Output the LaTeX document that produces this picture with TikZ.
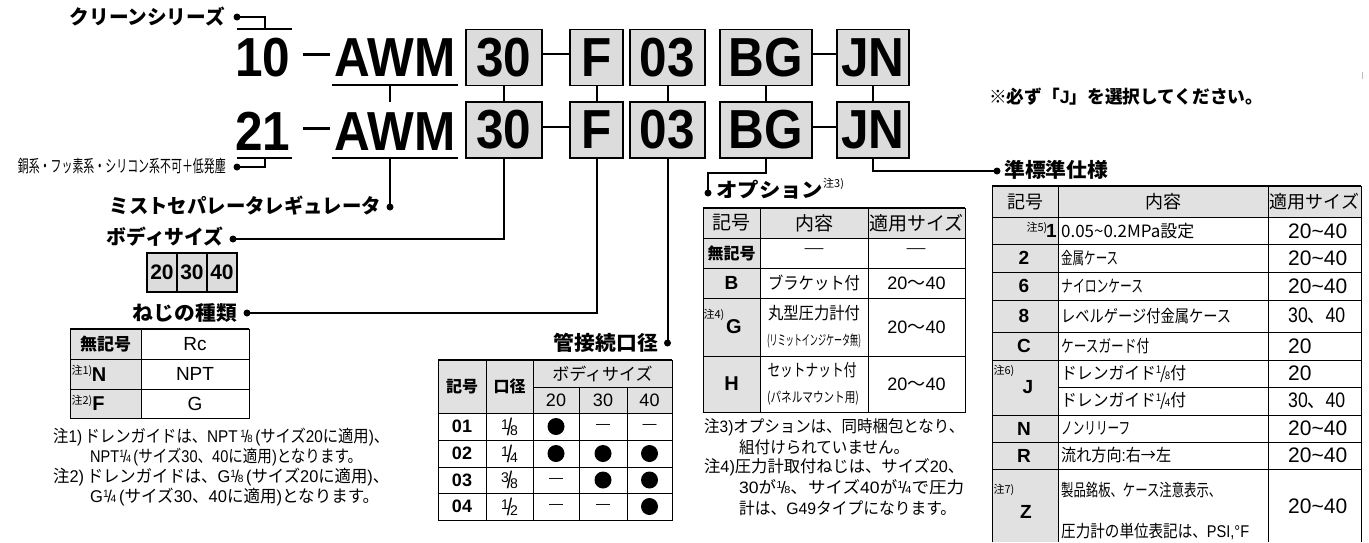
\documentclass[tikz,border=0pt]{standalone}
\usepackage{fontspec}
\usepackage{graphicx}
\setmainfont{Liberation Sans}
\newfontfamily\jp{Noto Sans CJK JP}
\newcommand\J[1]{{\jp #1}}
\newcommand\fs[1]{\fontsize{#1}{#1}\selectfont}
\newcommand\fx[2]{\resizebox{#1pt}{\height}{#2}}
\newcommand\nx[1]{\scalebox{0.9}[1]{#1}}
\newcommand\fr[2]{\raisebox{0.55ex}{\scalebox{0.62}{#1}}\kern-0.08em/\kern-0.08em\scalebox{0.62}{#2}}
\newcommand\pfr[2]{\raisebox{6pt}{\fs{14}#1}\kern-2pt{\fs{24}\scalebox{0.8}[1]{/}}\kern-2pt{\fs{14}#2}}
\newcommand\tld{\char"007E\relax}
\definecolor{boxgray}{RGB}{220,220,220}
\definecolor{hdgray}{RGB}{225,225,225}
\tikzset{
  code/.style={draw, line width=1.8, fill=boxgray, inner sep=0, minimum height=56, font=\bfseries\fs{55}},
  bigtxt/.style={inner sep=0, font=\bfseries\fs{55}},
  conn/.style={line width=2},
  dotn/.style={circle, fill, inner sep=0, minimum size=7},
  ttl/.style={inner sep=0, font=\jp\bfseries\fs{20}},
  tx/.style={inner sep=0, font=\fs{18}},
  btx/.style={inner sep=0, font=\bfseries\fs{18}},
  jtx/.style={inner sep=0, font=\jp\fs{17}},
  jbtx/.style={inner sep=0, font=\jp\bfseries\fs{16}},
  sm/.style={inner sep=0, font=\jp\fs{11}},
  grid/.style={line width=1},
  topl/.style={line width=2.2},
  note/.style={inner sep=0, anchor=west, font=\fs{17}},
  bul/.style={circle, fill, inner sep=0, minimum size=17},
}
\begin{document}
\begin{tikzpicture}[x=1pt,y=-1pt]
\useasboundingbox (0,0) rectangle (1369,542);

% ---------- part number rows ----------
\node[bigtxt] (t10) at (263,57.5) {\nx{10}};
\node[bigtxt] (tawm1) at (395,57.5) {\nx{AWM}};
\node[code, minimum width=76] (c30a) at (504,57.5) {\nx{30}};
\node[code, minimum width=53] (cFa) at (596.5,57.5) {\nx{F}};
\node[code, minimum width=75] (c03a) at (667.5,57.5) {\nx{03}};
\node[code, minimum width=92] (cBGa) at (766,57.5) {\nx{BG}};
\node[code, minimum width=72] (cJNa) at (873,57.5) {\nx{JN}};

\node[bigtxt] (t21) at (263,131.5) {\nx{21}};
\node[bigtxt] (tawm2) at (395,131.5) {\nx{AWM}};
\node[code, minimum width=76] (c30b) at (504,130) {\nx{30}};
\node[code, minimum width=53] (cFb) at (596.5,130) {\nx{F}};
\node[code, minimum width=75] (c03b) at (667.5,130) {\nx{03}};
\node[code, minimum width=92] (cBGb) at (766,130) {\nx{BG}};
\node[code, minimum width=72] (cJNb) at (873,130) {\nx{JN}};

% dashes and connectors in the part numbers
\draw[line width=3] (303,54) -- (330,54);
\draw[line width=3] (303,128) -- (330,128);
\draw[conn] (c30a.east |- 0,54) -- (cFa.west |- 0,54);
\draw[conn] (cBGa.east |- 0,54) -- (cJNa.west |- 0,54);
\draw[conn] (c30b.east |- 0,127) -- (cFb.west |- 0,127);
\draw[conn] (cBGb.east |- 0,127) -- (cJNb.west |- 0,127);
\foreach \n in {30,F,03,BG,JN}{\draw[conn] (c\n a.south) -- (c\n b.north);}

% underlines
\draw[conn] (237,29) -- (292,29);
\draw[conn] (332,85) -- (458,85);
\draw[conn] (390,85) -- (390,102);
\draw[conn] (237,158) -- (292,158);
\draw[conn] (332,158) -- (458,158);

% ---------- labels with dots ----------
\node[ttl, anchor=east] (lclean) at (225,17) {\fx{155}{クリーンシリーズ}};
\node[dotn] (dclean) at (237,17) {};
\coordinate (kclean) at (265,29);
\draw[conn] (dclean.center) -| (kclean);

\node[inner sep=0, anchor=east, font=\jp\fs{17}] (llow) at (226,166) {\fx{208}{銅系・フッ素系・シリコン系不可＋低発塵}};
\node[dotn] (dlow) at (237,167) {};
\coordinate (klow) at (265,158);
\draw[conn] (dlow.center) -| (klow);

\node[ttl, anchor=east] (lmist) at (381,206) {\fx{271}{ミストセパレータレギュレータ}};
\node[dotn] (dmist) at (390,207) {};
\draw[conn] (390,158) -- (dmist.center);

\node[ttl, anchor=east] (lbody) at (224,237) {\fx{117}{ボディサイズ}};
\node[dotn] (dbody) at (233,239) {};
\draw[conn] (c30b.south) |- (dbody.center);

\node[ttl, anchor=east] (lthread) at (237,313) {\fx{104}{ねじの種類}};
\node[dotn] (dthread) at (247,313) {};
\draw[conn] (cFb.south) |- (dthread.center);

\node[ttl, anchor=east] (lpipe) at (658,343) {\fx{104}{管接続口径}};
\node[dotn] (dpipe) at (667.5,343) {};
\draw[conn] (c03b.south) -- (dpipe.center);

\node[ttl, anchor=west] (lopt) at (716,190) {\fx{107}{オプション}};
\node[sm, anchor=west] (lopt3) at (823,184) {注3)};
\node[dotn] (dopt) at (708,193) {};
\coordinate (kopt) at (766,173);
\draw[conn] (cBGb.south) -- (kopt) -| (dopt.center);

\node[ttl, anchor=west] (lstd) at (1004,170) {\fx{104}{準標準仕様}};
\node[dotn] (dstd) at (997,171) {};
\draw[conn] (cJNb.south) |- (dstd.center);

\node[ttl, anchor=west, font=\jp\bfseries\fs{18}] (lmust) at (989,97) {\fx{274}{※必ず「{\rmfamily\bfseries J}」を選択してください。}};
\draw[gray!50, line width=1] (1362,72) -- (1362,79);

% ---------- body size boxes ----------
\foreach \v/\x in {20/162,30/192,40/222}{
  \node[draw, line width=1.4, fill=boxgray, minimum width=30, minimum height=39, inner sep=0, font=\bfseries\fs{21}] (bs\v) at (\x,272.5) {\v};
}

% ---------- thread table ----------
\fill[hdgray] (70,329) rectangle (141,418);
\draw[grid] (70,329) rectangle (249,418);
\draw[topl] (70,329) -- (249,329);
\draw[grid] (141,329) -- (141,418);
\draw[grid] (70,359) -- (249,359);
\draw[grid] (70,389) -- (249,389);
\node[jbtx, font=\jp\bfseries\fs{17}] (th1) at (105.5,344) {無記号};
\node[tx, font=\fs{19}] (th2) at (195,344) {Rc};
\node[sm] (th3) at (82,371) {注1)};
\node[btx, font=\bfseries\fs{20}] (th4) at (99,375) {N};
\node[tx, font=\fs{19}] (th5) at (195,374) {NPT};
\node[sm] (th6) at (82,401) {注2)};
\node[btx, font=\bfseries\fs{20}] (th7) at (98.5,404) {F};
\node[tx, font=\fs{19}] (th8) at (195,404) {G};

\node[note] (n1) at (53,437) {\fx{336}{\J{注}1)\,\J{ドレンガイドは、}NPT\,\fr18\,(\J{サイズ}20\J{に適用})\J{、}}};
\node[note] (n2) at (90,457) {\fx{272}{NPT\fr14\,(\J{サイズ}30\J{、}40\J{に適用})\J{となります。}}};
\node[note] (n3) at (53,477) {\fx{336}{\J{注}2)\,\J{ドレンガイドは、}G\fr18\,(\J{サイズ}20\J{に適用})\J{、}}};
\node[note] (n4) at (90,497) {\fx{289}{G\fr14\,(\J{サイズ}30\J{、}40\J{に適用})\J{となります。}}};

% ---------- pipe size table ----------
\fill[hdgray] (438,360) rectangle (672,413);
\draw[grid] (438,360) rectangle (672,520);
\draw[topl] (438,360) -- (672,360);
\foreach \x in {486,533}{\draw[grid] (\x,360) -- (\x,520);}
\foreach \x in {579,627}{\draw[grid] (\x,387) -- (\x,520);}
\draw[grid] (533,387) -- (672,387);
\foreach \y in {413,440,467,493}{\draw[grid] (438,\y) -- (672,\y);}
\node[jbtx] (p1) at (462,386.5) {記号};
\node[jbtx] (p2) at (509.5,386.5) {口径};
\node[jtx] (p3) at (602.5,373.5) {ボディサイズ};
\node[tx] (p4) at (556,400.5) {20};
\node[tx] (p5) at (603,400.5) {30};
\node[tx] (p6) at (649.5,400.5) {40};
\foreach \c/\a/\b/\y [count=\i] in {01/1/8/426.5, 02/1/4/453.5, 03/3/8/480, 04/1/2/506.5}{
  \node[btx] (pc\i) at (462,\y) {\c};
  \node[inner sep=0] (pf\i) at (509.5,\y) {\pfr{\a}{\b}};
}
\foreach \x/\y [count=\i] in {556/426.5, 556/453.5, 603/453.5, 649.5/453.5, 603/480, 649.5/480, 649.5/506.5}{
  \node[bul] (pb\i) at (\x,\y) {};
}
\foreach \x/\y [count=\i] in {603/426.5, 649.5/426.5, 556/480, 556/506.5, 603/506.5}{
  \node[inner sep=0, font=\fs{14}] (pd\i) at (\x,\y) {—};
}

% ---------- option table ----------
\fill[hdgray] (703,208) rectangle (965,238);
\fill[hdgray] (703,238) rectangle (760,412);
\draw[grid] (703,208) rectangle (965,412);
\draw[topl] (703,208) -- (965,208);
\foreach \x in {760,868}{\draw[grid] (\x,208) -- (\x,412);}
\foreach \y in {238,268,298,356}{\draw[grid] (703,\y) -- (965,\y);}
\node[jtx, font=\jp\fs{19}] (o1) at (731.5,223) {記号};
\node[jtx, font=\jp\fs{19}] (o2) at (814,223) {内容};
\node[jtx, font=\jp\fs{19}] (o3) at (916.5,223) {適用サイズ};
\node[jbtx] (o4) at (731.5,253) {無記号};
\node[jtx, font=\jp\fs{22}] (o5) at (814,253) {―};
\node[jtx, font=\jp\fs{22}] (o6) at (916.5,253) {―};
\node[btx, font=\bfseries\fs{19}] (o7) at (731.5,283) {B};
\node[jtx] (o8) at (814,283) {\fx{92}{ブラケット付}};
\node[tx] (o9) at (916.5,283) {20\J{〜}40};
\node[sm] (o10) at (714,315) {注4)};
\node[btx, font=\bfseries\fs{20}] (o11) at (734,327) {G};
\node[jtx] (o12) at (814,313) {\fx{92}{丸型圧力計付}};
\node[jtx, font=\jp\fs{14}] (o13) at (814,341) {\fx{94}{(リミットインジケータ無)}};
\node[tx] (o14) at (916.5,327) {20\J{〜}40};
\node[btx, font=\bfseries\fs{20}] (o15) at (731.5,384) {H};
\node[jtx] (o16) at (812,370) {\fx{89}{セットナット付}};
\node[jtx, font=\jp\fs{14}] (o17) at (813,398) {\fx{92}{(パネルマウント用)}};
\node[tx] (o18) at (916.5,384) {20\J{〜}40};

\node[note, font=\fs{16.5}] (on1) at (704,427) {\fx{260}{\J{注}3)\J{オプションは、同時梱包となり、}}};
\node[note, font=\fs{16.5}] (on2) at (739,447) {\fx{170}{\J{組付けられていません。}}};
\node[note, font=\fs{16.5}] (on3) at (704,467) {\fx{260}{\J{注}4)\J{圧力計取付ねじは、サイズ}20\J{、}}};
\node[note, font=\fs{16.5}] (on4) at (739,487) {\fx{225}{30\J{が}\fr18\J{、サイズ}40\J{が}\fr14\J{で圧力}}};
\node[note, font=\fs{16.5}] (on5) at (739,508) {\fx{217}{\J{計は、}G49\J{タイプになります。}}};

% ---------- semi-standard table ----------
\fill[hdgray] (992,186) rectangle (1361,217);
\fill[hdgray] (992,217) rectangle (1058,542);
\draw[grid] (992,542) -- (992,186) -- (1361,186) -- (1361,542);
\draw[topl] (992,186) -- (1361,186);
\foreach \x in {1058,1268}{\draw[grid] (\x,186) -- (\x,542);}
\foreach \y in {217,244,272,300,332,360,415,442,469}{\draw[grid] (992,\y) -- (1361,\y);}
\draw[grid] (1058,387) -- (1361,387);
\node[jtx, font=\jp\fs{18}] (s1) at (1025,201.5) {記号};
\node[jtx, font=\jp\fs{18}] (s2) at (1163,201.5) {内容};
\node[jtx, font=\jp\fs{18}] (s3) at (1314.5,201.5) {適用サイズ};
\node[sm] (s4) at (1037,228) {注5)};
\node[btx, font=\bfseries\fs{19}] (s5) at (1051.5,231) {1};
\foreach \c/\y [count=\i] in {2/258, 6/286, 8/316, C/346, N/428.5, R/455.5}{
  \node[btx, font=\bfseries\fs{19}] (sc\i) at (1024,\y) {\c};
}
\node[sm] (s6) at (1004,371) {注6)};
\node[btx, font=\bfseries\fs{19}] (s7) at (1028,387) {J};
\node[sm] (s8) at (1004,490) {注7)};
\node[btx, font=\bfseries\fs{19}] (s9) at (1026,512) {Z};

\tikzset{ct/.style={jtx, anchor=west}, sz/.style={tx, anchor=west, font=\fs{21}}}
\node[ct] (sd1) at (1061,231) {\fx{133}{0.05\tld0.2MPa\J{設定}}};
\node[ct] (sd2) at (1061,258) {\fx{57}{金属ケース}};
\node[ct] (sd3) at (1061,286) {\fx{82}{ナイロンケース}};
\node[ct] (sd4) at (1061,316) {\fx{170}{レベルゲージ付金属ケース}};
\node[ct] (sd5) at (1061,346) {\fx{88}{ケースガード付}};
\node[ct] (sd6) at (1061,373.5) {\fx{125}{\J{ドレンガイド}\fr18\J{付}}};
\node[ct] (sd7) at (1061,401) {\fx{125}{\J{ドレンガイド}\fr14\J{付}}};
\node[ct] (sd8) at (1061,428.5) {\fx{69}{ノンリリーフ}};
\node[ct] (sd9) at (1061,455.5) {\fx{110}{\J{流れ方向}{\rmfamily :}\J{右→左}}};
\node[ct] (sd10) at (1061,490) {\fx{160}{製品銘板、ケース注意表示、}};
\node[ct] (sd11) at (1061,531) {\fx{188}{\J{圧力計の単位表記は、}{\rmfamily PSI,°F}}};

\node[sz] (sz1) at (1288,231) {20\tld40};
\node[sz] (sz2) at (1288,258) {20\tld40};
\node[sz] (sz3) at (1288,286) {20\tld40};
\node[sz] (sz4) at (1288,316) {\fx{57}{30\J{、}40}};
\node[sz] (sz5) at (1288,346) {20};
\node[sz] (sz6) at (1288,373.5) {20};
\node[sz] (sz7) at (1288,401) {\fx{57}{30\J{、}40}};
\node[sz] (sz8) at (1288,428.5) {20\tld40};
\node[sz] (sz9) at (1288,455.5) {20\tld40};
\node[sz] (sz10) at (1288,506) {20\tld40};
\end{tikzpicture}
\end{document}
